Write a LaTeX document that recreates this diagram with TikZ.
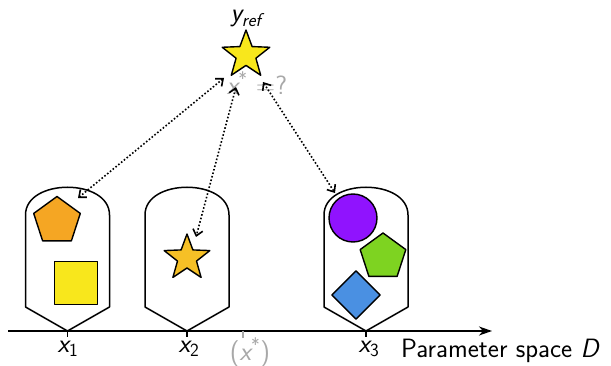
\documentclass[tikz,border=0pt]{standalone}
\usetikzlibrary{shapes.geometric,arrows.meta}
\definecolor{orng}{HTML}{F5A623}
\definecolor{yel}{HTML}{F8E71C}
\definecolor{gold}{HTML}{F6C026}
\definecolor{purp}{HTML}{9013FE}
\definecolor{grn}{HTML}{7ED321}
\definecolor{blu}{HTML}{4A90E2}
\definecolor{gry}{HTML}{A8A8A8}
\tikzset{
  box/.style={draw=black, line width=1.5pt, line join=round},
  shp/.style={draw=black, line width=1.4pt, inner sep=0pt, line join=round},
  link/.style={dotted, line width=1.6pt, {Straight Barb[length=6pt,width=10pt]}-{Straight Barb[length=6pt,width=10pt]}},
  lab/.style={font=\sffamily\fontsize{26.5}{30}\selectfont, inner sep=0pt},
  tick/.style={line width=1.2pt},
}
\begin{document}
\begin{tikzpicture}[x=1pt,y=-1pt]
\useasboundingbox (0,0) rectangle (611,366);
% axis
\coordinate (ax0) at (8,331);
\coordinate (ax1) at (492,331);
\draw[line width=1.5pt, -{Stealth[length=13pt,width=9pt,inset=4pt]}] (ax0) -- (ax1);
% containers
\foreach \c in {67.5,187,366} {
  \draw[box, fill=white] (\c-42,307) -- (\c-42,215) .. controls (\c-42,178) and (\c+42,178) .. (\c+42,215) -- (\c+42,307) -- (\c,331) -- cycle;
}
% ticks
\draw[tick] (67.5,331) -- (67.5,337);
\draw[tick] (187,331) -- (187,337);
\draw[tick] (366,331) -- (366,337);
\draw[tick, gry] (243,331) -- (243,338);
% shapes
\node[shp, regular polygon, regular polygon sides=5, minimum size=49pt, fill=orng] (p1) at (57,221) {};
\node[shp, rectangle, minimum size=43pt, fill=yel] (q1) at (76,283) {};
\node[shp, star, star points=5, star point ratio=2.4, minimum size=48pt, fill=gold] (s2) at (187,258) {};
\node[shp, star, star points=5, star point ratio=2.4, minimum size=50pt, fill=yel] (yref) at (246,55) {};
\node[shp, circle, minimum size=48pt, fill=purp] (c3) at (353,218) {};
\node[shp, regular polygon, regular polygon sides=5, minimum size=48pt, fill=grn] (p3) at (383,257) {};
\node[shp, diamond, aspect=1, minimum size=49pt, fill=blu] (d3) at (356,295) {};
% labels
\node[lab, anchor=base] (ly) at (246,22) {\itshape y\textsubscript{ref}};
\node[lab, anchor=base, text=gry] (lq) at (257,95) {{\itshape x}\textsuperscript{*} =?};
\node[lab, anchor=north] (l1) at (68,341) {{\itshape x}\textsubscript{1}};
\node[lab, anchor=north] (l2) at (189,341) {{\itshape x}\textsubscript{2}};
\node[lab, anchor=north] (l3) at (369,341) {{\itshape x}\textsubscript{3}};
\node[lab, anchor=center, text=gry] (lx) at (250,352) {({\itshape x}\textsuperscript{*})};
\node[lab, anchor=base west] (lD) at (401,357) {Parameter space {\itshape D}};
% links
\coordinate (e1) at (224,78);
\coordinate (f1) at (78,198);
\coordinate (e2) at (236,87);
\coordinate (f2) at (196,237);
\coordinate (e3) at (263,82);
\coordinate (f3) at (335,193);
\draw[link] (e1) -- (f1);
\draw[link] (e2) -- (f2);
\draw[link] (e3) -- (f3);
\end{tikzpicture}
\end{document}
